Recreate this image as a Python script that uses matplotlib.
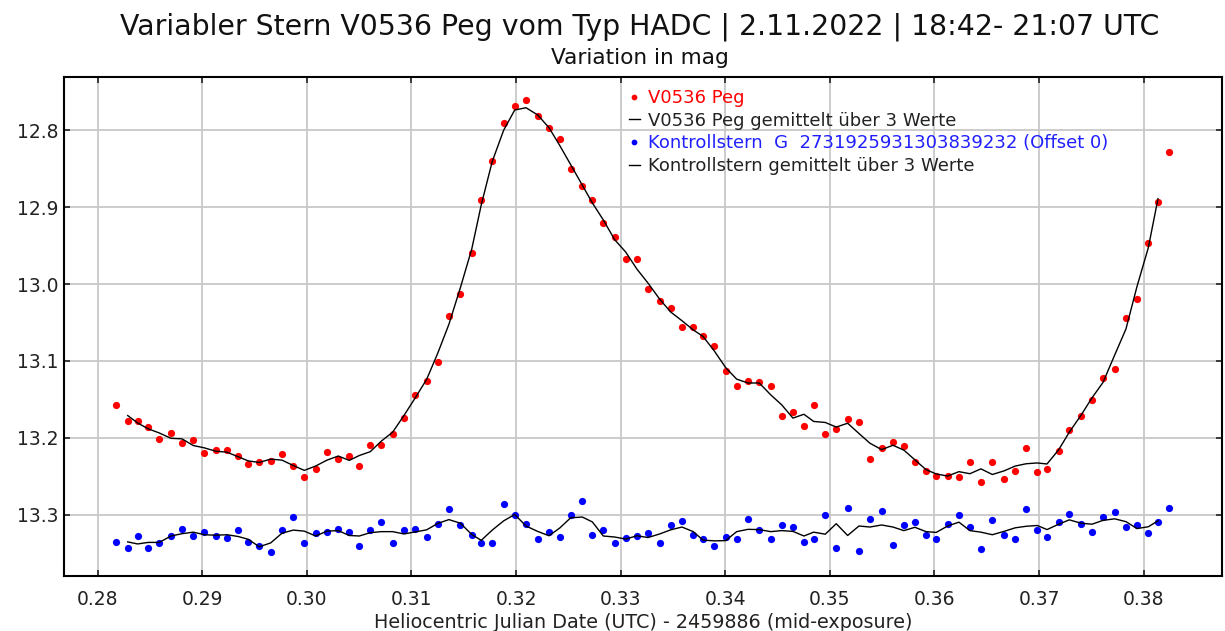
import numpy as np
import matplotlib
matplotlib.use("Agg")
import matplotlib.pyplot as plt

# HJD - 2459886, shared by both stars
hjd = [0.28175, 0.28287, 0.28382, 0.28484, 0.28589, 0.28701, 0.28806, 0.28914, 0.29019, 0.29128,
       0.29236, 0.29344, 0.29440, 0.29545, 0.29654, 0.29762, 0.29870, 0.29975, 0.30084, 0.30192,
       0.30300, 0.30405, 0.30501, 0.30606, 0.30711, 0.30820, 0.30928, 0.31036, 0.31145, 0.31251,
       0.31358, 0.31467, 0.31576, 0.31667, 0.31772, 0.31881, 0.31987, 0.32095, 0.32206, 0.32315,
       0.32417, 0.32522, 0.32633, 0.32729, 0.32834, 0.32943, 0.33048, 0.33156, 0.33261, 0.33373,
       0.33478, 0.33586, 0.33694, 0.33787, 0.33895, 0.34004, 0.34109, 0.34217, 0.34325, 0.34434,
       0.34539, 0.34647, 0.34752, 0.34845, 0.34956, 0.35061, 0.35170, 0.35278, 0.35383, 0.35495,
       0.35603, 0.35708, 0.35813, 0.35919, 0.36017, 0.36126, 0.36234, 0.36339, 0.36444, 0.36553,
       0.36665, 0.36773, 0.36878, 0.36983, 0.37076, 0.37187, 0.37289, 0.37401, 0.37506, 0.37611,
       0.37723, 0.37831, 0.37936, 0.38044, 0.38137, 0.38245]

var_mag = [13.157, 13.178, 13.178, 13.186, 13.201, 13.194, 13.207, 13.203, 13.220, 13.216,
           13.216, 13.224, 13.234, 13.232, 13.230, 13.221, 13.236, 13.251, 13.240, 13.219,
           13.228, 13.224, 13.236, 13.209, 13.209, 13.195, 13.174, 13.144, 13.126, 13.102,
           13.042, 13.013, 12.960, 12.891, 12.840, 12.791, 12.769, 12.761, 12.782, 12.797,
           12.811, 12.851, 12.872, 12.891, 12.920, 12.939, 12.968, 12.968, 13.006, 13.022,
           13.031, 13.056, 13.056, 13.067, 13.081, 13.113, 13.132, 13.126, 13.128, 13.132,
           13.172, 13.167, 13.184, 13.157, 13.195, 13.188, 13.175, 13.180, 13.228, 13.213,
           13.205, 13.211, 13.232, 13.243, 13.249, 13.249, 13.251, 13.232, 13.257, 13.232,
           13.254, 13.243, 13.213, 13.245, 13.240, 13.217, 13.190, 13.171, 13.151, 13.122,
           13.111, 13.044, 13.020, 12.946, 12.893, 12.828]

check_mag = [13.335, 13.343, 13.328, 13.343, 13.337, 13.328, 13.318, 13.328, 13.322, 13.328,
             13.330, 13.320, 13.335, 13.341, 13.349, 13.320, 13.303, 13.337, 13.324, 13.322,
             13.318, 13.322, 13.341, 13.320, 13.309, 13.337, 13.320, 13.318, 13.329, 13.312,
             13.293, 13.314, 13.326, 13.337, 13.337, 13.286, 13.301, 13.312, 13.331, 13.322,
             13.329, 13.301, 13.282, 13.326, 13.320, 13.337, 13.330, 13.328, 13.324, 13.337,
             13.314, 13.308, 13.326, 13.332, 13.341, 13.329, 13.331, 13.306, 13.320, 13.332,
             13.314, 13.316, 13.335, 13.332, 13.301, 13.343, 13.291, 13.347, 13.306, 13.295,
             13.339, 13.314, 13.309, 13.326, 13.331, 13.312, 13.301, 13.316, 13.345, 13.307,
             13.326, 13.332, 13.293, 13.320, 13.329, 13.309, 13.299, 13.312, 13.322, 13.303,
             13.297, 13.316, 13.314, 13.324, 13.309, 13.291]

x_ticks = [0.28, 0.29, 0.30, 0.31, 0.32, 0.33, 0.34, 0.35, 0.36, 0.37, 0.38]
y_ticks = [12.8, 12.9, 13.0, 13.1, 13.2, 13.3]

labels = ["V0536 Peg",
          "V0536 Peg gemittelt über 3 Werte",
          "Kontrollstern  G  2731925931303839232 (Offset 0)",
          "Kontrollstern gemittelt über 3 Werte"]

def running_mean(vals, n=3):
    # centered mean over n values, drops the ends
    return np.convolve(vals, np.ones(n) / n, mode="valid")

t = np.array(hjd)
t_avg = t[1:-1]

fig = plt.figure(figsize=(12.25, 6.31), dpi=100)
ax = fig.add_axes([64 / 1225, 1 - 575.7 / 631, (1222 - 64) / 1225, (575.7 - 77.3) / 631])

h1, = ax.plot(t, var_mag, "o", color="#ff0000", ms=5.2, mew=0, label=labels[0])
h2, = ax.plot(t_avg, running_mean(var_mag), "-", color="black", lw=1, label=labels[1])
h3, = ax.plot(t, check_mag, "o", color="#0000ff", ms=5.2, mew=0, label=labels[2])
h4, = ax.plot(t_avg, running_mean(check_mag), "-", color="black", lw=1, label=labels[3])

ax.set_xlim(0.27678, 0.38749)
ax.set_ylim(13.3793, 12.7311)
ax.set_xticks(x_ticks)
ax.set_xticklabels([f"{v:.2f}" for v in x_ticks])
ax.set_yticks(y_ticks)
ax.set_yticklabels([f"{v:.1f}" for v in y_ticks])
ax.grid(True, color="#c8c8c8", lw=1.3)
ax.set_axisbelow(True)
ax.tick_params(direction="in", top=True, right=True, length=4, width=1.2,
               labelsize=13.5, colors="#222222")
ax.tick_params(axis="x", pad=10)
ax.tick_params(axis="y", pad=4)
for sp in ax.spines.values():
    sp.set_linewidth(1.5)
    sp.set_color("black")

ax.set_xlabel("Heliocentric Julian Date (UTC) - 2459886 (mid-exposure)", fontsize=13.8,
              color="#222222", labelpad=3)

leg = ax.legend(handles=[h1, h2, h3, h4], loc="upper left", bbox_to_anchor=(0.480, 0.995),
                frameon=False, fontsize=13, handlelength=0.6, handletextpad=0.45,
                labelspacing=0.26, borderpad=0, markerscale=0.8,
                labelcolor=["#ff0000", "#222222", "#2020ff", "#222222"])

fig.text(0.5224, 1 - 27 / 631, "Variabler Stern V0536 Peg vom Typ HADC | 2.11.2022 | 18:42- 21:07 UTC",
         ha="center", va="center", fontsize=20.4, color="#111111")
fig.text(0.5224, 1 - 58 / 631, "Variation in mag", ha="center", va="center", fontsize=15.6,
         color="#111111")

fig.savefig("out.png", dpi=100)
